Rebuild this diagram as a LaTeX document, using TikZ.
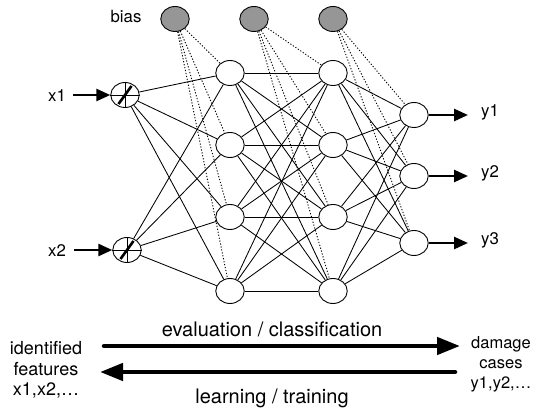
\documentclass[tikz,border=0pt]{standalone}
\usepackage{fontspec}
\setmainfont{TeX Gyre Heros}
\usetikzlibrary{shapes.geometric,arrows.meta}
\definecolor{biasfill}{RGB}{150,150,150}
\begin{document}
\begin{tikzpicture}[x=1pt,y=-1pt,
  unit/.style={ellipse,draw,line width=0.9pt,fill=white,minimum width=28.5pt,minimum height=25pt,inner sep=0pt},
  biasunit/.style={unit,fill=biasfill},
  link/.style={line width=0.85pt},
  biaslink/.style={line width=0.9pt,dash pattern=on 1.2pt off 1.8pt},
  ioarrow/.style={line width=2.6pt,-{Triangle[length=14pt,width=12pt]}},
  flow/.style={line width=4.5pt,line cap=round,-{Triangle[length=23pt,width=17pt]}},
  lbl/.style={font=\fontsize{16.8}{19}\selectfont,inner sep=0pt,anchor=base},
  caption/.style={font=\fontsize{20}{23}\selectfont,inner sep=0pt,anchor=base}
]
\useasboundingbox (0,0) rectangle (537,411);

% input units
\node[unit] (i1) at (125,95) {};
\node[unit] (i2) at (127,250) {};
% first hidden layer
\foreach \k/\y in {1/73,2/145,3/217,4/291}
  \node[unit] (h\k) at (230,\y) {};
% second hidden layer
\foreach \k/\y in {1/73,2/145,3/217,4/291}
  \node[unit] (g\k) at (333,\y) {};
% output units
\foreach \k/\y in {1/115,2/176,3/243}
  \node[unit] (o\k) at (414,\y) {};
% bias units
\node[biasunit] (b1) at (175,19) {};
\node[biasunit] (b2) at (254,19) {};
\node[biasunit] (b3) at (333,19) {};
\node[lbl] (bl) at (126,23) {bias};

% weighted connections
\foreach \i in {1,2}
  \foreach \h in {1,...,4}
    \draw[link] (i\i) -- (h\h);
\foreach \h in {1,...,4}
  \foreach \g in {1,...,4}
    \draw[link] (h\h) -- (g\g);
\foreach \g in {1,...,4}
  \foreach \o in {1,2,3}
    \draw[link] (g\g) -- (o\o);

% bias connections
\foreach \h in {1,...,4}
  \draw[biaslink] (b1) -- (h\h);
\foreach \g in {1,...,4}
  \draw[biaslink] (b2) -- (g\g);
\foreach \o in {1,2,3}
  \draw[biaslink] (b3) -- (o\o);

% input unit symbol: cross and slash
\foreach \n in {i1,i2} {
  \draw[line width=0.8pt] (\n.west) -- (\n.east);
  \draw[line width=0.8pt] (\n.north) -- (\n.south);
  \draw[line width=2.6pt] ([shift={(-6.5,9)}]\n.center) -- ([shift={(6.5,-9)}]\n.center);
}

% inputs
\node[lbl] (lx1) at (57,102) {x1};
\node[lbl] (lx2) at (57,257) {x2};
\coordinate (a1) at (73,95);
\coordinate (a2) at (74,250);
\draw[ioarrow] (a1) -- (i1);
\draw[ioarrow] (a2) -- (i2);

% outputs
\foreach \k/\y in {1/115,2/176,3/243} {
  \coordinate (e\k) at (468,\y);
  \draw[ioarrow] (o\k) -- (e\k);
  \node[lbl] (ly\k) at (490,\y+1.8) {y\k};
}

% direction of use
\node[caption] (eval) at (272,336) {evaluation / classification};
\node[caption] (learn) at (272,403) {learning / training};
\coordinate (fs) at (104,346);
\coordinate (fe) at (460,346);
\coordinate (bs) at (455,372);
\coordinate (be) at (100,372);
\draw[flow] (fs) -- (fe);
\draw[flow] (bs) -- (be);

\node[font=\fontsize{18}{20.5}\selectfont,align=center,inner sep=0pt] (feat) at (46,370)
  {identified\\features\\x1,x2,\dots};
\node[font=\fontsize{16.5}{20}\selectfont,align=center,inner sep=0pt] (cases) at (501,364)
  {damage\\cases\\y1,y2,\dots};
\end{tikzpicture}
\end{document}
